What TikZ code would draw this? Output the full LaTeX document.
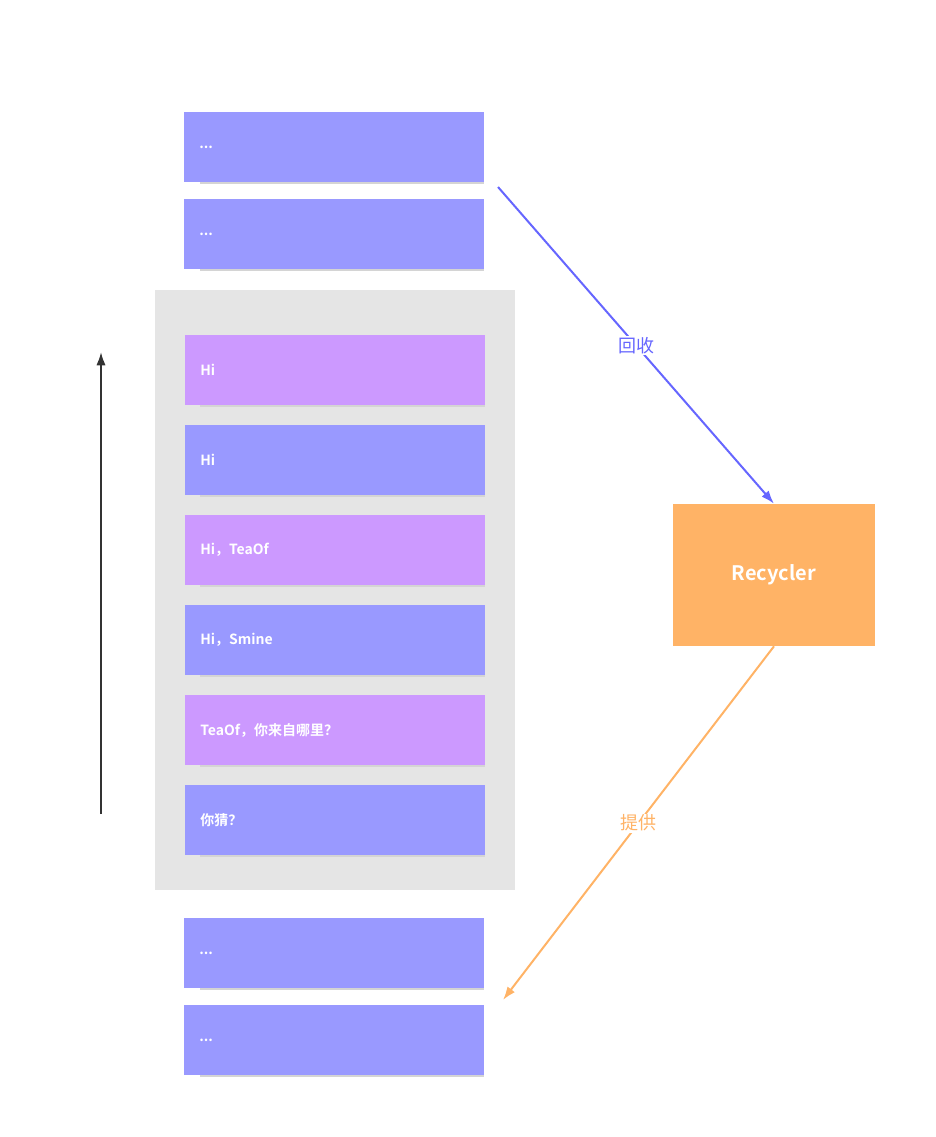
\documentclass[tikz,border=0pt]{standalone}
\usepackage{fontspec}
\setmainfont{Noto Sans CJK SC}[BoldFont={* Bold}]
\usetikzlibrary{arrows.meta}
\definecolor{msgblue}{HTML}{9999FF}
\definecolor{msgpurple}{HTML}{CC99FF}
\definecolor{screengray}{HTML}{E5E5E5}
\definecolor{pickblue}{HTML}{6666FF}
\definecolor{poolorange}{HTML}{FFB366}
\tikzset{
	msgbox/.style={fill=#1, minimum width=225pt, minimum height=52.5pt, inner xsep=11.25pt,
		text width=202.5pt, align=left, anchor=north west, text=white, font=\bfseries\fontsize{10.5}{12}\selectfont},
	msgshade/.style={draw=black!17, line width=1.2pt},
	flow/.style={line width=1.5pt, -{Latex[length=10pt, width=7pt]}},
	flowlabel/.style={fill=white, inner sep=1pt, font=\fontsize{13.5}{15}\selectfont}
}
\begin{document}
\begin{tikzpicture}[x=0.75pt, y=-0.75pt]
	\useasboundingbox (0,0) rectangle (935,1137);
	% screen area
	\fill[screengray] (155,290) rectangle (515,890);
	% items above and below the screen
	\foreach \name/\y in {above1/112, above2/199, below1/918, below2/1005} {
		\draw[msgshade] (200,\y+71) -- (484,\y+71);
		\node[msgbox=msgblue] (\name) at (184,\y) {...};
	}
	% visible items
	\foreach \name/\y/\c/\t in {msg1/335/msgpurple/Hi, msg2/425/msgblue/Hi, msg3/515/msgpurple/{Hi，TeaOf},
		msg4/605/msgblue/{Hi，Smine}, msg5/695/msgpurple/{TeaOf，你来自哪里？}, msg6/785/msgblue/{你猜？}} {
		\draw[msgshade] (200,\y+71) -- (485,\y+71);
		\node[msgbox=\c] (\name) at (185,\y) {\t};
	}
	% scroll direction
	\coordinate (sbot) at (101,814); \coordinate (stop) at (101,352);
	\draw[line width=1.5pt, black!80, -{Latex[length=10pt, width=7pt]}] (sbot) -- (stop);
	\node[fill=poolorange, minimum width=151.5pt, minimum height=106.5pt, text=white,
		font=\bfseries\fontsize{15}{18}\selectfont] (recycler) at (774,575) {Recycler};
	\coordinate (out) at (498,187); \coordinate (in) at (503,1000);
	\draw[flow, pickblue] (out) -- (recycler.north) node[flowlabel, text=pickblue, midway] (recyclelabel) {回收};
	\draw[flow, poolorange] (recycler.south) -- (in) node[flowlabel, text=poolorange, midway] (providelabel) {提供};
\end{tikzpicture}
\end{document}
